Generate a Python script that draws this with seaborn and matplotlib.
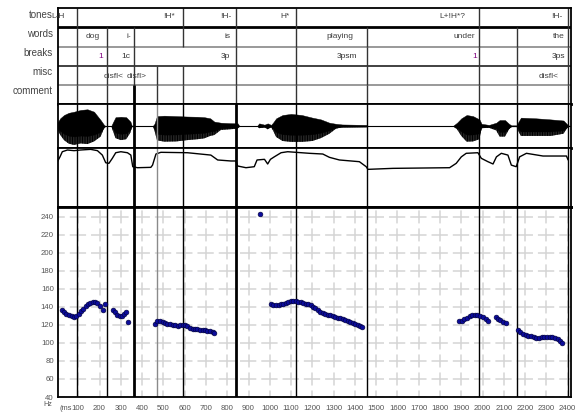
import pandas as pd
import seaborn as sns
import matplotlib.pyplot as plt

sns.set_style("white")
plt.rcParams['font.family'] = ['Liberation Sans', 'DejaVu Sans']
plt.rcParams['lines.scale_dashes'] = False
plt.rcParams['hatch.linewidth'] = 0.9

# label tiers: text and time (ms) of its right edge
tone_labels = ["L-H", "!H*", "!H-", "H*", "L+!H*?", "!H-"]
tone_ms = [38, 555, 822, 1095, 1917, 2373]
word_labels = ["dog", "i-", "is", "playing", "under", "the"]
word_ms = [202, 346, 813, 1392, 1964, 2387]
break_labels = ["1", "1c", "3p", "3psm", "1", "3ps"]
break_ms = [218, 346, 813, 1411, 1975, 2387]
break_colors = ["#800080", "#333333", "#333333", "#333333", "#800080", "#333333"]
misc_labels = ["disfl<", "disfl>", "disfl<"]
misc_ms = [315, 422, 2356]

# interval boundaries per tier (ms)
tone_bounds = [93, 591, 841, 1122, 1983, 2403]
word_bounds = [93, 234, 362, 591, 841, 1122, 1458, 1983, 2163, 2403]
break_bounds = [93, 234, 362, 841, 1122, 1458, 1983, 2163, 2403]
misc_bounds = [93, 234, 362, 471, 591, 841, 1122, 1458, 1983, 2163, 2403]
comment_bounds = [93, 234, 362, 471, 591, 841, 1122, 1458, 1983, 2163, 2403]

# waveform amplitude envelope (upper / lower, normalised)
wave_ms = [0, 2, 15, 33, 55, 80, 111, 143, 174, 205, 221, 228, 255, 262, 275, 300,
           325, 345, 352, 450, 458, 470, 504, 560, 613, 660, 692, 720, 739, 770,
           810, 849, 857, 940, 950, 975, 990, 1006, 1015, 1030, 1060, 1100, 1150,
           1200, 1240, 1280, 1311, 1340, 1454, 1462, 1860, 1880, 1900, 1925, 1955,
           1985, 1995, 2030, 2064, 2080, 2105, 2124, 2135, 2160, 2166, 2180, 2250,
           2320, 2380, 2400, 2410]
wave_up = [0, .15, .35, .5, .6, .65, .73, .76, .65, .27, .05, 0, 0, .15, .4, .42,
           .4, .2, 0, 0, .1, .45, .47, .45, .43, .42, .4, .35, .2, .15,
           .13, .12, 0, 0, .12, .06, .12, .05, .15, .35, .5, .55, .5,
           .38, .3, .15, .1, .07, .05, 0, 0, .15, .35, .5, .45,
           .3, .1, .05, .15, .27, .27, .1, .03, .03, .15, .38, .35,
           .3, .25, .05, 0]
wave_lo = [0, -.15, -.4, -.64, -.8, -.86, -.79, -.82, -.7, -.48, -.1, 0, 0, -.2, -.55, -.64,
           -.6, -.3, 0, 0, -.2, -.65, -.71, -.7, -.64, -.6, -.56, -.45, -.41, -.18,
           -.15, -.12, 0, 0, -.1, -.06, -.15, -.05, -.2, -.5, -.68, -.72, -.72,
           -.68, -.55, -.35, -.12, -.06, -.05, 0, 0, -.15, -.45, -.71, -.7,
           -.6, -.1, -.08, -.2, -.48, -.48, -.15, -.03, -.03, -.2, -.45, -.45,
           -.45, -.35, -.05, 0]

# energy contour (0-100 of panel height)
env_ms = [2, 14, 25, 49, 80, 111, 158, 190, 213, 229, 244, 260, 276, 300, 331, 347,
          356, 378, 441, 449, 465, 488, 613, 723, 755, 817, 841, 849, 888, 927,
          940, 975, 990, 1003, 1021, 1053, 1084, 1186, 1249, 1280, 1327, 1421, 1453,
          1461, 1578, 1845, 1876, 1900, 1923, 1978, 1994, 2025, 2049, 2065, 2088,
          2119, 2135, 2158, 2174, 2206, 2284, 2394, 2402]
env_level = [76.8, 85, 93.7, 96.6, 95.5, 96.6, 97.7, 95.5, 88, 75, 74, 82.5, 92, 93.7, 92, 88,
             68.3, 66.6, 67.2, 71, 89.8, 92.7, 92, 88, 79.7, 78, 78, 69.5, 66.6, 68.3,
             79.7, 80.8, 72.9, 80.8, 85, 92, 93.7, 91, 89.8, 84.2, 79.7, 76.8, 68.3,
             63.8, 65.5, 66.6, 74, 85, 91, 92, 82.5, 76.8, 72.9, 85, 91,
             88, 71, 68.3, 85, 91, 86.4, 86.4, 79.7]

# F0 track
pitch_ms = [25, 34, 44, 56, 69, 80, 91, 104, 114, 124, 135, 146, 157, 168, 179, 190, 202, 215, 226,
            262, 272, 283, 294, 305, 314, 324, 335,
            461, 472, 485, 496, 508, 519, 532, 543, 555, 568, 579, 590, 602, 613, 624, 637,
            649, 660, 671, 684, 695, 707, 718, 731, 736,
            954,
            1006, 1016, 1029, 1041, 1053, 1064, 1076, 1087, 1100, 1111, 1123, 1134, 1147,
            1158, 1170, 1181, 1194, 1205, 1214, 1225, 1236, 1249, 1260, 1272, 1283, 1296,
            1307, 1319, 1330, 1343, 1354, 1366, 1377, 1390, 1401, 1413, 1426, 1432,
            1889, 1901, 1914, 1926, 1939, 1951, 1964, 1976, 1989, 2001, 2014, 2027,
            2061, 2072, 2083, 2096, 2108,
            2166, 2178, 2190, 2202, 2215, 2227, 2240, 2253, 2265, 2278, 2290, 2303, 2315,
            2328, 2340, 2353, 2366, 2375]
pitch_hz = [136.3, 134.4, 132.6, 131, 129.6, 128.9, 130, 132.2, 135.2, 138.2, 141.1, 143.3, 144.4,
            145.6, 146, 144.1, 141.1, 136.3, 143,
            136.5, 134, 131, 129.5, 130, 132, 134, 123.5,
            121.5, 124.9, 124.1, 123.3, 122.2, 121.5, 120.8, 120.0, 119.7, 119.3, 119.7, 120.4,
            119.7, 118.6, 117.1, 116, 115.2, 115.2, 114.9, 114.9, 114.5, 113.7, 113, 112.2, 111.5,
            243.5,
            143, 141.9, 141.9, 142.6, 143, 143.8, 144.1, 145.6, 146.7, 147.1, 146.3, 146, 145.2,
            144.4, 143.8, 143, 141.9, 140.4, 138.9, 136.7, 134.4, 133, 132.2, 131.5, 130.8, 130,
            128.9, 128.2, 127.4, 126.3, 125.6, 124.4, 123.8, 122.7, 121.6, 120.4, 118.9, 117.8,
            124.1, 124.9, 126.3, 128.2, 129.7, 130.8, 131.1, 131.1, 130.4, 128.5, 126.3, 124.1,
            128.5, 127.1, 125.6, 123.8, 121.9,
            114.1, 112.2, 110.4, 109.3, 108.2, 107.4, 106.3, 105.6, 105.6, 106.3, 107.1, 107.1,
            106.7, 106.3, 105.2, 104.1, 102.6, 100.4]

W, H = 579, 412
X0, X1 = 58, 571
MS0, MSCALE = 57, 0.2128
xlim = ((X0 - MS0) / MSCALE, (X1 - MS0) / MSCALE)

fig = plt.figure(figsize=(W / 100, H / 100), dpi=100)


def panel(top, bottom):
    ax = fig.add_axes([X0 / W, 1 - bottom / H, (X1 - X0) / W, (bottom - top) / H])
    ax.set_xlim(xlim)
    ax.set_xticks([])
    ax.set_yticks([])
    for sp in ax.spines.values():
        sp.set_color("black")
        sp.set_linewidth(1.3)
    ax.set_facecolor("white")
    return ax


# ---- label table
ax_t = panel(8, 104)
ax_t.set_ylim(104, 8)
ax_t.spines['bottom'].set_linewidth(2)
rows = [(8, 27), (27, 46.5), (46.5, 66), (66, 85), (85, 104)]
for y, c, lw in [(27, "black", 2), (46.5, "#888888", 1.2), (66, "#333333", 1.3), (85, "#888888", 1.2)]:
    ax_t.axhline(y, color=c, lw=lw)
for (y0, y1), bnds in zip(rows, [tone_bounds, word_bounds, break_bounds, misc_bounds, comment_bounds]):
    ax_t.vlines(bnds, y0, y1, color="#333333", lw=1)
ax_t.vlines([362], 85, 104, color="black", lw=2)

row_names = ["tones", "words", "breaks", "misc", "comment"]
row_base = [17.7, 37.3, 56, 75, 94.3]
for name, yb in zip(row_names, row_base):
    fig.text(53 / W, 1 - yb / H, name, ha="right", va="baseline", fontsize=7, color="#444444")

for labels, times, yb in [(tone_labels, tone_ms, 18.3), (word_labels, word_ms, 38.5),
                          (misc_labels, misc_ms, 77.5)]:
    for lab, t in zip(labels, times):
        ax_t.text(t, yb, lab, ha="right", va="baseline", fontsize=6, color="#404040", clip_on=False)
for lab, t, c in zip(break_labels, break_ms, break_colors):
    ax_t.text(t, 58.5, lab, ha="right", va="baseline", fontsize=6, color=c)

# ---- waveform: solid upper half, striped lower half
ax_w = panel(104, 148)
ax_w.set_ylim(-1, 1)
ax_w.spines['bottom'].set_linewidth(2)
ax_w.axhline(0, color="black", lw=0.8)
ax_w.fill_between(wave_ms, 0, wave_up, color="black", lw=0.3)
ax_w.fill_between(wave_ms, wave_lo, 0, facecolor="#555555", edgecolor="black",
                  hatch="|" * 10, lw=0)
ax_w.fill_between(wave_ms, [v * 0.55 for v in wave_lo], 0, color="black", lw=0.3)

# ---- energy contour
ax_e = panel(148, 207)
ax_e.set_ylim(0, 100)
ax_e.spines['bottom'].set_linewidth(2)
sns.lineplot(x=env_ms, y=env_level, ax=ax_e, color="black", lw=1, estimator=None, sort=False)
ax_e.set_xlim(xlim)
ax_e.set_ylim(0, 100)

# ---- pitch panel
ax_p = panel(207, 397)
ylim = (40, 251)
px_per_hz = (397 - 207) / (ylim[1] - ylim[0])
gap = 5 * 0.72
h_per = 100 * MSCALE * 0.72
v_per = 20 * px_per_hz * 0.72
for hz in range(40, 241, 20):
    ax_p.plot([-50, 2500], [hz, hz], color="#d4d4d4", lw=1.1,
              linestyle=(h_per - gap / 2, (h_per - gap, gap)), zorder=0)
for ms in range(0, 2401, 100):
    ax_p.plot([ms, ms], [30, 270], color="#d4d4d4", lw=1.1,
              linestyle=(v_per - gap / 2, (v_per - gap, gap)), zorder=0)

for ax in (ax_w, ax_e, ax_p):
    for b in comment_bounds:
        if b in (362, 841):
            ax.axvline(b, color="black", lw=2, zorder=2)
        elif b == 471:
            ax.axvline(b, color="#8a8a8a", lw=1, zorder=2)
        else:
            ax.axvline(b, color="black", lw=1, zorder=2)

df = pd.DataFrame({"ms": pitch_ms, "hz": pitch_hz})
sns.scatterplot(data=df, x="ms", y="hz", ax=ax_p, s=12, color="#0c0c9c",
                edgecolor="#000033", linewidth=0.4, zorder=5, legend=False)
ax_p.set_xlim(xlim)
ax_p.set_ylim(ylim)
ax_p.set_xlabel("")
ax_p.set_ylabel("")
ax_p.set_xticks(range(100, 2401, 100))
ax_p.set_yticks(range(40, 241, 20))
ax_p.tick_params(length=0, labelsize=5.6, labelcolor="#555555")
ax_p.tick_params(axis="x", pad=6)
ax_p.tick_params(axis="y", pad=3)
ax_p.spines['top'].set_linewidth(2)
fig.text(72 / W, 1 - 408.5 / H, "(ms", ha="right", va="center", fontsize=5.4, color="#555555")
fig.text(43 / W, 1 - 405 / H, "Hz", ha="left", va="center", fontsize=5.2, color="#555555")

fig.savefig("out.png", dpi=100, facecolor="white")
